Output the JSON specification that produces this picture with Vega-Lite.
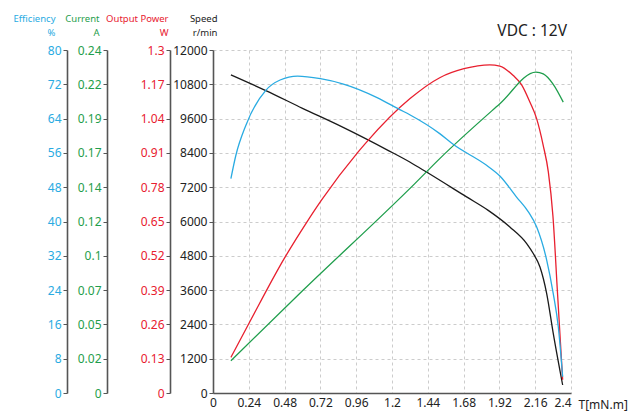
{
  "$schema": "https://vega.github.io/schema/vega-lite/v6.json",
  "width": 358,
  "height": 343,
  "autosize": {"type": "none"},
  "padding": {"left": 213, "top": 50, "right": 66, "bottom": 18},
  "background": "white",
  "config": {
    "font": "Noto Sans",
    "view": {"stroke": null},
    "axis": {
      "labelFont": "Noto Sans",
      "labelFontSize": 12,
      "titleFont": "Noto Sans",
      "titleFontSize": 9.5,
      "titleFontWeight": "normal",
      "domainColor": "#555555",
      "domainWidth": 1.6,
      "tickColor": "#555555",
      "tickSize": 4,
      "labelPadding": 2,
      "gridColor": "#cccccc",
      "gridDash": [3, 3],
      "gridWidth": 1
    }
  },
  "title": {
    "text": "VDC : 12V",
    "anchor": "end",
    "orient": "top",
    "frame": "group",
    "offset": -38,
    "baseline": "alphabetic",
    "dx": -4,
    "fontSize": 15.5,
    "fontWeight": "normal",
    "font": "Noto Sans",
    "color": "#222222"
  },
  "datasets": {
    "speed": [
      {"T": 0.12, "v": 11130}, {"T": 0.354, "v": 10580}, {"T": 0.6, "v": 9960},
      {"T": 0.869, "v": 9300}, {"T": 1.173, "v": 8490}, {"T": 1.319, "v": 8080},
      {"T": 1.431, "v": 7730}, {"T": 1.7, "v": 6860}, {"T": 1.845, "v": 6390},
      {"T": 1.99, "v": 5810}, {"T": 2.103, "v": 5230},
      {"T": 2.147, "v": 4880}, {"T": 2.192, "v": 4410}, {"T": 2.237, "v": 3480},
      {"T": 2.281, "v": 2085}, {"T": 2.344, "v": 280}
    ],
    "eff": [
      {"T": 0.12, "v": 50.0}, {"T": 0.153, "v": 55.4}, {"T": 0.22, "v": 62.4},
      {"T": 0.354, "v": 70.6}, {"T": 0.45, "v": 73.0}, {"T": 0.567, "v": 73.9},
      {"T": 0.72, "v": 73.3}, {"T": 0.869, "v": 72.1}, {"T": 1.1, "v": 68.9},
      {"T": 1.252, "v": 66.1}, {"T": 1.319, "v": 64.9}, {"T": 1.52, "v": 60.5},
      {"T": 1.61, "v": 58.0}, {"T": 1.834, "v": 53.1}, {"T": 1.923, "v": 50.6},
      {"T": 2.035, "v": 45.7}, {"T": 2.113, "v": 42.3}, {"T": 2.17, "v": 38.7},
      {"T": 2.237, "v": 31.0}, {"T": 2.281, "v": 23.2}, {"T": 2.315, "v": 15.4},
      {"T": 2.344, "v": 3.8}
    ],
    "power": [
      {"T": 0.12, "v": 0.135}, {"T": 0.245, "v": 0.268},
      {"T": 0.48, "v": 0.512}, {"T": 0.626, "v": 0.645}, {"T": 0.726, "v": 0.73},
      {"T": 0.972, "v": 0.913}, {"T": 1.028, "v": 0.95}, {"T": 1.319, "v": 1.115},
      {"T": 1.52, "v": 1.195}, {"T": 1.682, "v": 1.229}, {"T": 1.856, "v": 1.244},
      {"T": 1.923, "v": 1.239}, {"T": 2.013, "v": 1.203}, {"T": 2.069, "v": 1.168},
      {"T": 2.125, "v": 1.102}, {"T": 2.17, "v": 1.039}, {"T": 2.214, "v": 0.938},
      {"T": 2.248, "v": 0.838}, {"T": 2.279, "v": 0.67}, {"T": 2.31, "v": 0.374},
      {"T": 2.344, "v": 0.05}
    ],
    "current": [
      {"T": 0.12, "v": 0.0226}, {"T": 0.6, "v": 0.0715}, {"T": 1.353, "v": 0.1465},
      {"T": 1.52, "v": 0.164}, {"T": 1.923, "v": 0.2024}, {"T": 2.165, "v": 0.2245},
      {"T": 2.214, "v": 0.2233}, {"T": 2.281, "v": 0.216}, {"T": 2.348, "v": 0.2035}
    ]
  },
  "encoding": {
    "x": {
      "field": "T",
      "type": "quantitative",
      "scale": {"domain": [0, 2.4], "nice": false, "zero": false},
      "axis": {
        "values": [0, 0.24, 0.48, 0.72, 0.96, 1.2, 1.44, 1.68, 1.92, 2.16, 2.4],
        "format": ".2~f",
        "labelColor": "#222222",
        "labelAlign": {"condition": {"test": "datum.value >= 2.39", "value": "right"}, "value": "center"},
        "ticks": false,
        "labelPadding": 4,
        "grid": true,
        "title": "T[mN.m]",
        "titleColor": "#222222",
        "titleFontSize": 12,
        "titleAlign": "left",
        "titleBaseline": "alphabetic",
        "titleX": 365,
        "titleY": 15,
        "labelFlush": false
      }
    }
  },
  "layer": [
    {
      "data": {"name": "speed"},
      "mark": {"type": "line", "color": "#1a1a1a", "strokeWidth": 1.3, "interpolate": "monotone"},
      "encoding": {
        "y": {
          "field": "v", "type": "quantitative",
          "scale": {"domain": [0, 12000], "nice": false},
          "axis": {
            "orient": "left", "offset": 0, "grid": true,
            "values": [0, 1200, 2400, 3600, 4800, 6000, 7200, 8400, 9600, 10800, 12000],
            "format": "d", "labelColor": "#222222",
            "title": ["Speed", "r/min"], "titleColor": "#222222",
            "titleAngle": 0, "titleAlign": "right", "titleBaseline": "alphabetic",
            "titleX": 4, "titleY": -29, "titleLineHeight": 14
          }
        }
      }
    },
    {
      "data": {"name": "power"},
      "mark": {"type": "line", "color": "#e8202f", "strokeWidth": 1.3, "interpolate": "monotone"},
      "encoding": {
        "y": {
          "field": "v", "type": "quantitative",
          "scale": {"domain": [0, 1.3], "nice": false},
          "axis": {
            "orient": "left", "offset": 43, "grid": false,
            "values": [0, 0.13, 0.26, 0.39, 0.52, 0.65, 0.78, 0.91, 1.04, 1.17, 1.3],
            "format": ".2~f", "labelColor": "#e8202f",
            "title": ["Output Power", "W"], "titleColor": "#e8202f",
            "titleAngle": 0, "titleAlign": "right", "titleBaseline": "alphabetic",
            "titleX": -2, "titleY": -29, "titleLineHeight": 14
          }
        }
      }
    },
    {
      "data": {"name": "current"},
      "mark": {"type": "line", "color": "#1f9e4c", "strokeWidth": 1.3, "interpolate": "monotone"},
      "encoding": {
        "y": {
          "field": "v", "type": "quantitative",
          "scale": {"domain": [0, 0.24], "nice": false},
          "axis": {
            "orient": "left", "offset": 106, "grid": false,
            "values": [0, 0.024, 0.048, 0.072, 0.096, 0.12, 0.144, 0.168, 0.192, 0.216, 0.24],
            "format": ".2~f", "labelColor": "#1f9e4c",
            "title": ["Current", "A"], "titleColor": "#1f9e4c",
            "titleAngle": 0, "titleAlign": "right", "titleBaseline": "alphabetic",
            "titleX": -8, "titleY": -29, "titleLineHeight": 14
          }
        }
      }
    },
    {
      "data": {"name": "eff"},
      "mark": {"type": "line", "color": "#29abe2", "strokeWidth": 1.3, "interpolate": "monotone"},
      "encoding": {
        "y": {
          "field": "v", "type": "quantitative",
          "scale": {"domain": [0, 80], "nice": false},
          "axis": {
            "orient": "left", "offset": 146, "grid": false,
            "values": [0, 8, 16, 24, 32, 40, 48, 56, 64, 72, 80],
            "format": "d", "labelColor": "#29abe2",
            "title": ["Efficiency", "%"], "titleColor": "#29abe2",
            "titleAngle": 0, "titleAlign": "right", "titleBaseline": "alphabetic",
            "titleX": -12, "titleY": -29, "titleLineHeight": 14
          }
        }
      }
    }
  ],
  "resolve": {"scale": {"y": "independent"}, "axis": {"y": "independent"}}
}
